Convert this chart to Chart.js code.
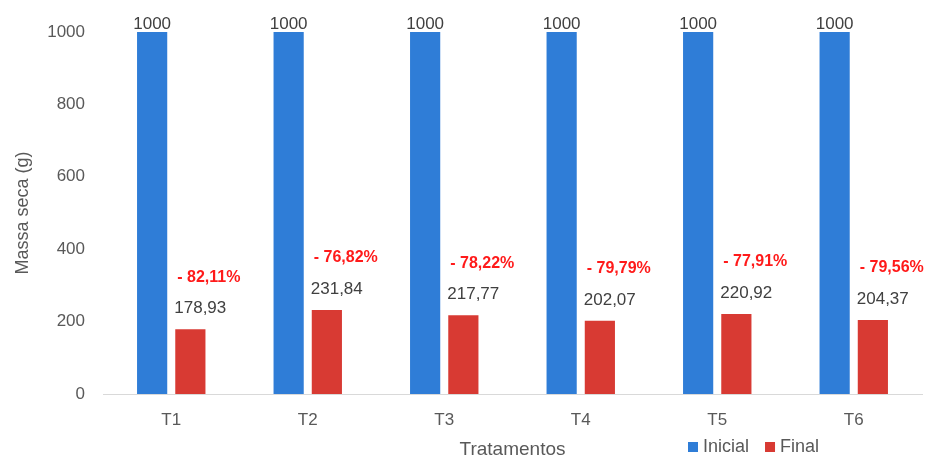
<!DOCTYPE html>
<html>
<head>
<meta charset="utf-8">
<script src="https://cdn.jsdelivr.net/npm/chart.js@4/dist/chart.umd.min.js"></script>
<style>
  html, body { margin: 0; padding: 0; background: #fff; }
</style>
</head>
<body>
<canvas id="massa_chart" width="925" height="457"></canvas>
<script>
var tratamentos = ['T1', 'T2', 'T3', 'T4', 'T5', 'T6'];
var inicial = [1000, 1000, 1000, 1000, 1000, 1000];
var final = [178.93, 231.84, 217.77, 202.07, 220.92, 204.37];
var reducao = [-82.11, -76.82, -78.22, -79.79, -77.91, -79.56];
var yTicks = [0, 200, 400, 600, 800, 1000];

var fontFam = '"Liberation Sans", Arial, sans-serif';

function fmt(v) {
  return v.toFixed(2).replace('.', ',');
}

// value labels on top of the bars
var barLabels = {
  id: 'barLabels',
  afterDatasetsDraw: function(chart) {
    var ctx = chart.ctx;
    ctx.save();
    chart.getDatasetMeta(0).data.forEach(function(bar, i) {
      ctx.font = '17px ' + fontFam;
      ctx.fillStyle = '#404040';
      ctx.textAlign = 'center';
      ctx.textBaseline = 'bottom';
      ctx.fillText(String(inicial[i]), bar.x, bar.y + 1);
    });
    chart.getDatasetMeta(1).data.forEach(function(bar, i) {
      var left = bar.x - bar.width / 2;
      ctx.textAlign = 'left';
      ctx.textBaseline = 'middle';
      ctx.font = '17px ' + fontFam;
      ctx.fillStyle = '#404040';
      ctx.fillText(fmt(final[i]), left - 1, bar.y - 21);
      ctx.font = 'bold 16px ' + fontFam;
      ctx.fillStyle = '#ff1a1a';
      ctx.fillText('- ' + fmt(Math.abs(reducao[i])) + '%', left + 2, bar.y - 52);
    });
    ctx.restore();
  }
};

// legend sits on the same row as the x axis title
var sideLegend = {
  id: 'sideLegend',
  afterDraw: function(chart) {
    var ctx = chart.ctx;
    var x = chart.chartArea.left + 585;
    var y = 447;
    ctx.save();
    ctx.font = '18px ' + fontFam;
    ctx.textBaseline = 'middle';
    ctx.textAlign = 'left';
    chart.data.datasets.forEach(function(ds) {
      ctx.fillStyle = ds.backgroundColor;
      ctx.fillRect(x, y - 5, 10, 10);
      ctx.fillStyle = '#595959';
      ctx.fillText(ds.label, x + 15, y);
      x += 15 + ctx.measureText(ds.label).width + 16;
    });
    ctx.restore();
  }
};

var ctx = document.getElementById('massa_chart');
var myChart = new Chart(ctx, {
  type: 'bar',
  data: {
    labels: tratamentos,
    datasets: [
      {
        label: 'Inicial',
        data: inicial,
        backgroundColor: '#2f7dd7',
        categoryPercentage: 0.56,
        barPercentage: 0.79
      },
      {
        label: 'Final',
        data: final,
        backgroundColor: '#d83a33',
        categoryPercentage: 0.56,
        barPercentage: 0.79
      }
    ]
  },
  options: {
    responsive: false,
    animation: false,
    devicePixelRatio: 1,
    layout: { padding: { top: 32, right: 3, left: 0, bottom: 0 } },
    plugins: {
      legend: { display: false },
      tooltip: { enabled: false }
    },
    scales: {
      x: {
        afterFit: function(scale) { scale.height = 63; },
        grid: { display: false, drawTicks: false },
        border: { display: true, color: '#d9d9d9', width: 1 },
        ticks: { color: '#595959', font: { family: fontFam, size: 17 }, padding: 16 },
        title: {
          display: true,
          text: 'Tratamentos',
          color: '#595959',
          font: { family: fontFam, size: 19, lineHeight: 0.8 },
          padding: { top: 0, bottom: 0 }
        }
      },
      y: {
        min: 0,
        max: 1000,
        afterFit: function(scale) { scale.width = 103; },
        afterBuildTicks: function(scale) {
          scale.ticks = yTicks.map(function(v) { return { value: v }; });
        },
        grid: { display: false, drawTicks: false },
        border: { display: false },
        ticks: {
          color: '#595959',
          font: { family: fontFam, size: 17 },
          padding: 18,
          callback: function(v) { return String(v); }
        },
        title: {
          display: true,
          text: 'Massa seca (g)',
          color: '#595959',
          font: { family: fontFam, size: 18 },
          padding: { top: 12, bottom: 0 }
        }
      }
    }
  },
  plugins: [barLabels, sideLegend]
});
</script>
</body>
</html>
